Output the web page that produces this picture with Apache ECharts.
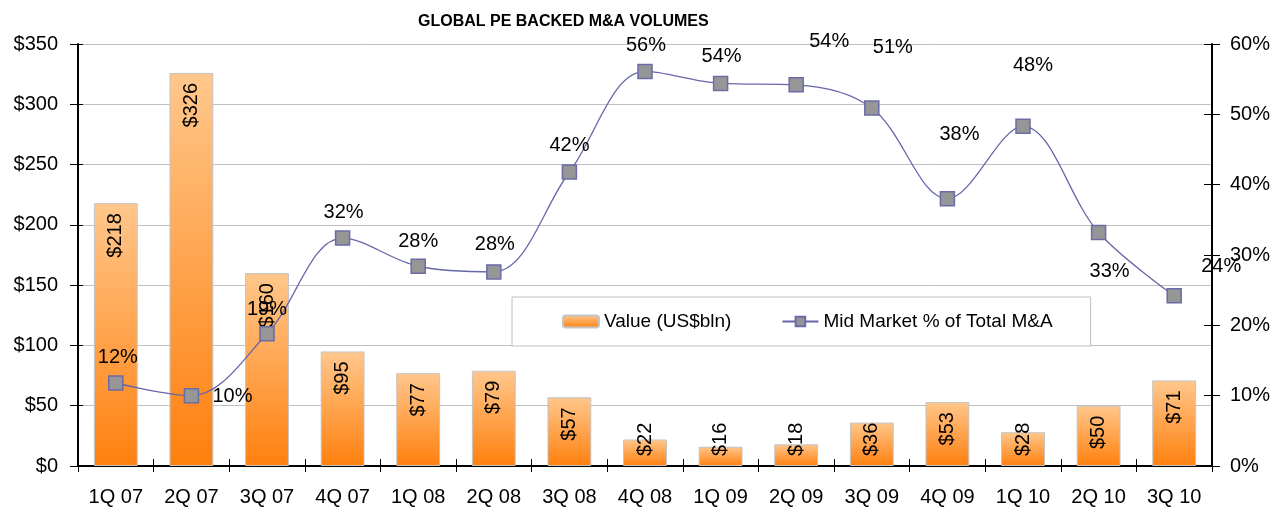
<!DOCTYPE html>
<html>
<head>
<meta charset="utf-8">
<title>GLOBAL PE BACKED M&amp;A VOLUMES</title>
<script src="https://cdn.jsdelivr.net/npm/echarts@6/dist/echarts.min.js"></script>
<style>
  html, body { margin: 0; padding: 0; background: #fff; }
  #chart { width: 1279px; height: 514px; }
</style>
</head>
<body>
<div id="chart"></div>
<script>
// 数据
var quarters = ['1Q 07', '2Q 07', '3Q 07', '4Q 07', '1Q 08', '2Q 08', '3Q 08', '4Q 08',
                '1Q 09', '2Q 09', '3Q 09', '4Q 09', '1Q 10', '2Q 10', '3Q 10'];
var dealValue = [218, 326, 160, 95, 77, 79, 57, 22, 16, 18, 36, 53, 28, 50, 71];
var midMarketPct = [11.8, 10, 18.8, 32.4, 28.4, 27.6, 41.8, 56.1, 54.4, 54.2, 50.9, 38, 48.3, 33.2, 24.2];
var valueTicks = ['$0', '$50', '$100', '$150', '$200', '$250', '$300', '$350'];
var pctTicks = ['0%', '10%', '20%', '30%', '40%', '50%', '60%'];

// 百分比标签相对点的偏移（像素）
var pctLabelOffset = [[2, -26], [41, 1], [0, -24], [1, -26], [0, -25], [1, -27], [0, -27], [1, -26],
                      [1, -27], [33, -43], [21, -61], [12, -64], [10, -61], [11, 39], [47, -29]];

var FONT = 'Liberation Sans, Arial, sans-serif';
var BAR_PX_PER_UNIT = 421 / 350;

var barData = [];
for (var i = 0; i < dealValue.length; i++) {
    var v = dealValue[i];
    var item = {value: v};
    // 柱子太短放不下文字时，文字改为贴底
    if (v * BAR_PX_PER_UNIT < 48) {
        item.label = {position: 'insideBottom', align: 'left', distance: 10};
    }
    barData.push(item);
}

var lineData = [];
for (var j = 0; j < midMarketPct.length; j++) {
    lineData.push({
        value: midMarketPct[j],
        label: {offset: pctLabelOffset[j]}
    });
}

var option = {
    animation: false,
    backgroundColor: '#fff',
    textStyle: {fontFamily: FONT},
    title: {
        text: 'GLOBAL PE BACKED M&A VOLUMES',
        left: 413,
        top: 9,
        textStyle: {
            fontFamily: FONT,
            fontWeight: 'bold',
            fontSize: 16,
            color: '#000'
        }
    },
    legend: {
        left: 512,
        top: 297,
        padding: [15, 38, 15, 50],
        itemGap: 50,
        itemWidth: 36,
        itemHeight: 12,
        backgroundColor: '#fff',
        borderColor: '#c0c0c0',
        borderWidth: 1,
        borderRadius: 0,
        textStyle: {fontSize: 19, color: '#000', fontFamily: FONT},
        data: ['Value (US$bln)', 'Mid Market % of Total M&A']
    },
    grid: {left: 78, right: 67, top: 44, bottom: 48, containLabel: false},
    xAxis: [{
        type: 'category',
        data: quarters,
        boundaryGap: true,
        axisLine: {lineStyle: {color: '#000', width: 2}},
        axisTick: {show: true, length: 6, lineStyle: {color: '#000', width: 1}},
        axisLabel: {color: '#000', fontSize: 20, margin: 21, interval: 0}
    }, {
        type: 'category',
        data: quarters,
        position: 'bottom',
        boundaryGap: true,
        axisLine: {show: false},
        axisTick: {show: true, inside: true, length: 7, lineStyle: {color: '#000', width: 1}},
        axisLabel: {show: false}
    }],
    yAxis: [{
        type: 'value',
        min: 0,
        max: 350,
        interval: 50,
        position: 'left',
        axisLine: {show: true, lineStyle: {color: '#000', width: 2}},
        axisTick: {show: true, length: 8, lineStyle: {color: '#000'}},
        axisLabel: {
            color: '#000', fontSize: 20, margin: 20,
            formatter: function (val) { return valueTicks[val / 50]; }
        },
        splitLine: {show: true, lineStyle: {color: '#c0c0c0', width: 1}}
    }, {
        type: 'value',
        min: 0,
        max: 60,
        interval: 10,
        position: 'right',
        axisLine: {show: true, lineStyle: {color: '#000', width: 2}},
        axisTick: {show: true, length: 8, lineStyle: {color: '#000'}},
        axisLabel: {
            color: '#000', fontSize: 20, margin: 18,
            formatter: function (val) { return pctTicks[val / 10]; }
        },
        splitLine: {show: false}
    }, {
        type: 'value',
        min: 0,
        max: 60,
        interval: 10,
        position: 'right',
        axisLine: {show: false},
        axisTick: {show: true, inside: true, length: 8, lineStyle: {color: '#000'}},
        axisLabel: {show: false},
        splitLine: {show: false}
    }, {
        type: 'value',
        min: 0,
        max: 350,
        interval: 50,
        position: 'left',
        axisLine: {show: false},
        axisTick: {show: true, inside: true, length: 5, lineStyle: {color: '#000'}},
        axisLabel: {show: false},
        splitLine: {show: false}
    }],
    series: [{
        name: 'Value (US$bln)',
        type: 'bar',
        xAxisIndex: 0,
        yAxisIndex: 0,
        barWidth: '58%',
        itemStyle: {
            color: new echarts.graphic.LinearGradient(0, 0, 0, 1, [
                {offset: 0, color: '#ffc78c'},
                {offset: 1, color: '#ff800e'}
            ]),
            borderColor: '#c4c4c4',
            borderWidth: 1
        },
        label: {
            show: true,
            position: 'insideTop',
            rotate: 90,
            align: 'right',
            verticalAlign: 'middle',
            distance: 10,
            color: '#000',
            fontSize: 20,
            fontFamily: FONT,
            formatter: function (p) { return '$' + p.value; }
        },
        data: barData,
        z: 2
    }, {
        name: 'Mid Market % of Total M&A',
        type: 'line',
        xAxisIndex: 0,
        yAxisIndex: 1,
        smooth: 0.35,
        symbol: 'rect',
        symbolSize: 14,
        lineStyle: {color: '#6666a8', width: 1.3},
        itemStyle: {color: '#969696', borderColor: '#6b6ba8', borderWidth: 1.5},
        label: {
            show: true,
            position: 'inside',
            align: 'center',
            verticalAlign: 'middle',
            color: '#000',
            fontSize: 20,
            fontFamily: FONT,
            formatter: function (p) { return Math.round(p.value) + '%'; }
        },
        data: lineData,
        z: 3
    }]
};

var myChart = echarts.init(document.getElementById('chart'));
myChart.setOption(option);
</script>
</body>
</html>
